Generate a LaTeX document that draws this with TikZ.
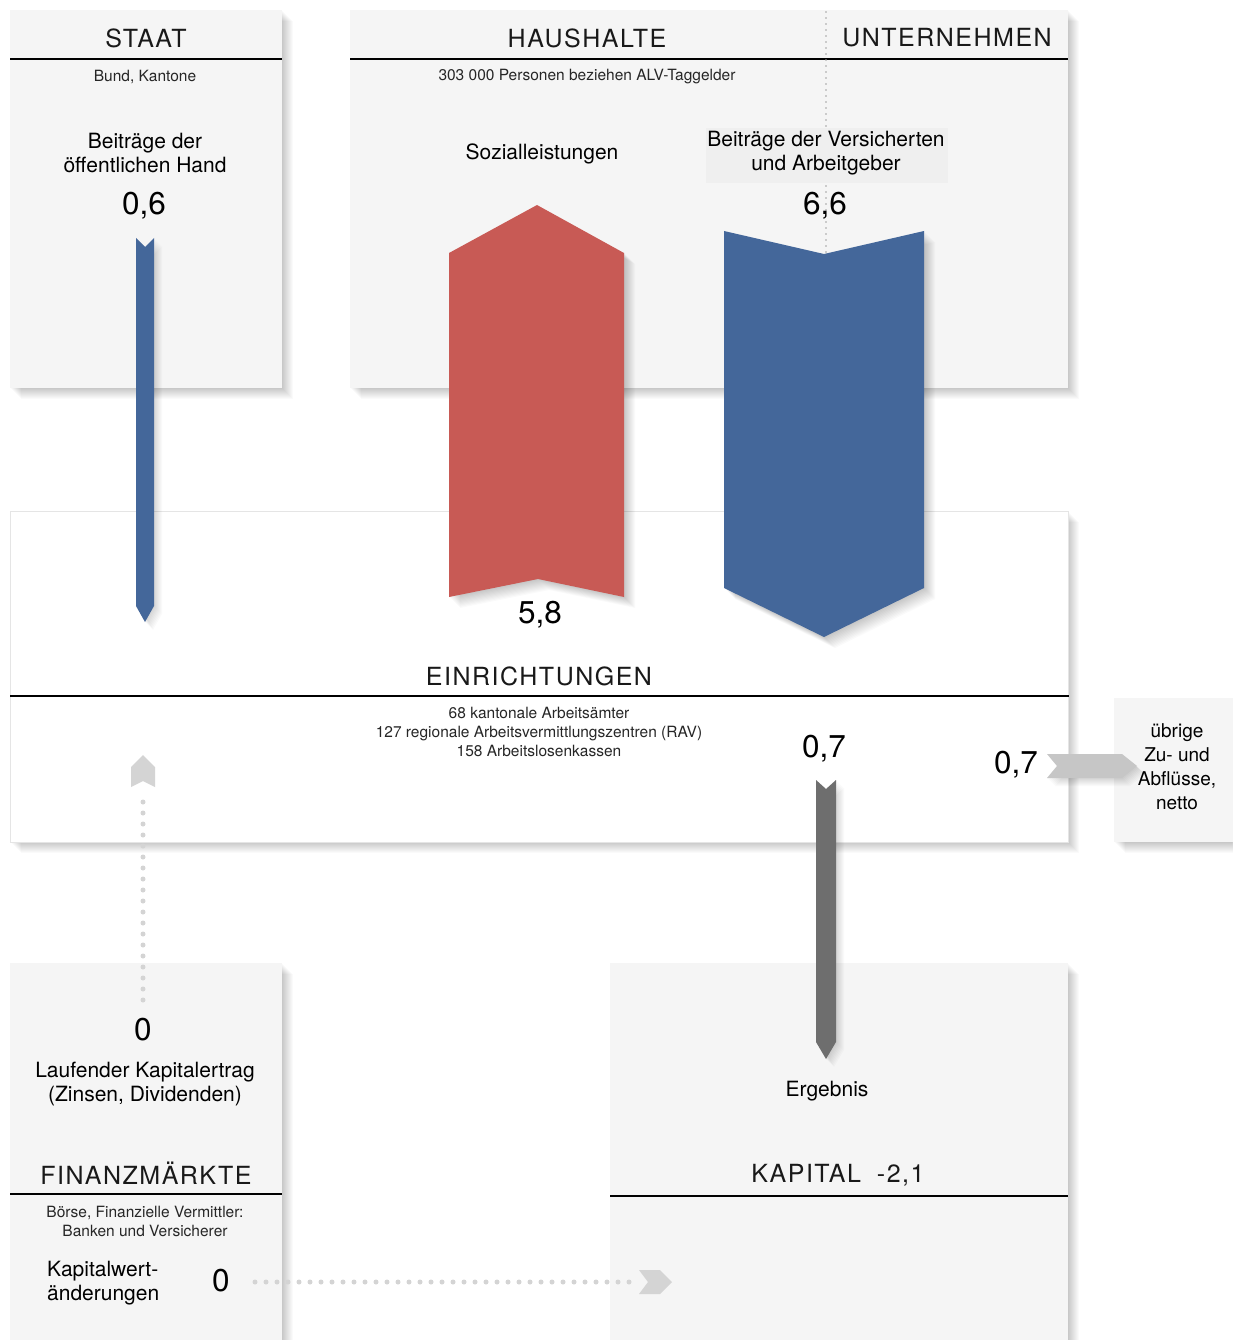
\documentclass[tikz,border=0pt]{standalone}
\usepackage{fontspec}
\setmainfont{TeX Gyre Heros}
\newfontfamily\hdrfont[LetterSpace=6]{TeX Gyre Heros}
\definecolor{boxfill}{HTML}{F5F5F5}
\definecolor{labfill}{HTML}{EFEFEF}
\definecolor{blueA}{HTML}{44679A}
\definecolor{redA}{HTML}{C85A55}
\definecolor{grayA}{HTML}{6E6E6E}
\definecolor{grayB}{HTML}{C6C6C6}
\definecolor{grayC}{HTML}{D4D4D4}
\definecolor{dotgray}{HTML}{A0A0A0}
\newcommand\fsA{\fontsize{21}{24}\selectfont}
\newcommand\fsS{\fontsize{15.5}{19}\selectfont}
\newcommand\fsN{\fontsize{31.5}{33}\selectfont}
\newcommand\fsH{\hdrfont\fontsize{25}{28}\selectfont}
\newcommand\fsU{\fontsize{19}{24}\selectfont}
\tikzset{
  shad/.style={preaction={fill=black,fill opacity=.02,transform canvas={xshift=#1,yshift=-#1}}},
  softshadow/.style={shad=1pt,shad=2pt,shad=3pt,shad=4pt,shad=5pt,shad=6pt,shad=7pt,shad=8pt,shad=9pt,shad=10pt,shad=11pt},
  smallshadow/.style={shad=1pt,shad=2pt,shad=3pt,shad=4pt,shad=5pt,shad=6pt,shad=7pt,shad=8pt},
  box/.style={rectangle,fill=boxfill,inner sep=0pt,anchor=north west,softshadow},
  wbox/.style={rectangle,fill=white,draw={black!10},line width=0.8pt,inner sep=0pt,anchor=north west,softshadow},
  hline/.style={line width=1.6pt,black},
  txt/.style={inner sep=0pt,align=center,font=\fsA},
  small/.style={inner sep=0pt,align=center,font=\fsS,text={black!85}},
  num/.style={inner sep=0pt,font=\fsN},
  hdr/.style={inner sep=0pt,font=\fsH,text={black!90}},
  dotline/.style={grayC,line width=5pt,line cap=round,dash pattern=on 0pt off 11pt},
  vdots/.style={dotgray,line width=1.8pt,line cap=round,dash pattern=on 0pt off 6pt}
}
\begin{document}
\begin{tikzpicture}[x=1pt,y=-1pt]
\useasboundingbox (0,0) rectangle (1232,1340);
\fill[white] (0,0) rectangle (1232,1340);
% boxes
\node[box,minimum width=272pt,minimum height=378pt] (staat) at (10,10) {};
\node[box,minimum width=718pt,minimum height=378pt] (haus) at (350,10) {};
\node[wbox,minimum width=1058pt,minimum height=331pt] (einr) at (10,511) {};
\node[box,minimum width=130pt,minimum height=144pt] (uebr) at (1114,698) {};
\node[box,minimum width=272pt,minimum height=390pt] (fin) at (10,963) {};
\node[box,minimum width=458pt,minimum height=390pt] (kap) at (610,963) {};
% header lines
\coordinate (l1) at (0,59); \coordinate (l2) at (0,696);
\coordinate (l3) at (0,1194); \coordinate (l4) at (0,1196);
\draw[hline] (staat.west |- l1) -- (staat.east |- l1);
\draw[hline] (haus.west |- l1) -- (haus.east |- l1);
\draw[hline] (einr.west |- l2) -- (einr.east |- l2);
\draw[hline] (fin.west |- l3) -- (fin.east |- l3);
\draw[hline] (kap.west |- l4) -- (kap.east |- l4);
% dotted separator Haushalte / Unternehmen
\coordinate (sepT) at (826,12);
\coordinate (sepB) at (826,252);
\draw[vdots] (sepT) -- (sepB);
% label background
\fill[labfill] (706,128) rectangle (948,183);
% arrows
\fill[blueA,smallshadow] (136,238) -- (145,247) -- (154,238) -- (154,606) -- (145,622) -- (136,606) -- cycle;
\fill[redA,softshadow] (449,597) -- (538,579) -- (624,597) -- (624,253) -- (537,205) -- (449,253) -- cycle;
\fill[blueA,softshadow] (724,231) -- (824,254) -- (924,231) -- (924,588) -- (824,637) -- (724,588) -- cycle;
\fill[grayA,smallshadow] (816,780) -- (826,789) -- (836,780) -- (836,1042) -- (826,1059) -- (816,1042) -- cycle;
\fill[grayB,smallshadow] (1047,754) -- (1122,754) -- (1137,766) -- (1122,778) -- (1047,778) -- (1057,766) -- cycle;
% dotted flows
\coordinate (dU1) at (143,1000); \coordinate (dU2) at (143,791);
\draw[dotline] (dU1) -- (dU2);
\fill[grayC] (131,787) -- (143,781) -- (155,787) -- (155,767) -- (143,755) -- (131,767) -- cycle;
\coordinate (dR1) at (255,1282); \coordinate (dR2) at (640,1282);
\draw[dotline] (dR1) -- (dR2);
\fill[grayC] (639,1270) -- (660,1270) -- (672,1282) -- (660,1294) -- (639,1294) -- (648,1282) -- cycle;
% texts
\node[hdr] (tStaat) at (146,38) {STAAT};
\node[small] (tBund) at (145,77) {Bund, Kantone};
\node[txt] (tBeitrOeff) at (145,153) {Beiträge der\\öffentlichen Hand};
\node[num] (n06) at (144,206) {0,6};
\node[hdr] (tHaus) at (587,38) {HAUSHALTE};
\node[hdr] (tUnt) at (947,38) {UNTERNEHMEN};
\node[small] (tPers) at (587,77) {303 000 Personen beziehen ALV-Taggelder};
\node[txt] (tSozial) at (542,154) {Sozialleistungen};
\node[txt] (tBeitrVers) at (826,153) {Beiträge der Versicherten\\und Arbeitgeber};
\node[num] (n66) at (825,206) {6,6};
\node[num] (n58) at (540,615) {5,8};
\node[hdr] (tEinr) at (539,676) {EINRICHTUNGEN};
\node[small] (tAemter) at (539,732) {68 kantonale Arbeitsämter\\127 regionale Arbeitsvermittlungszentren (RAV)\\158 Arbeitslosenkassen};
\node[num] (n07a) at (824,749) {0,7};
\node[num] (n07b) at (1016,765) {0,7};
\node[inner sep=0pt,align=center,font=\fsU] (tUebr) at (1177,767) {übrige\\Zu- und\\Abflüsse,\\netto};
\node[num] (n0a) at (143,1030) {0};
\node[txt] (tLauf) at (145,1084) {Laufender Kapitalertrag\\(Zinsen, Dividenden)};
\node[hdr] (tFin) at (146,1173) {FINANZMÄRKTE};
\node[small] (tBoerse) at (145,1221) {Börse, Finanzielle Vermittler:\\Banken und Versicherer};
\node[txt,align=left,anchor=west] (tKapW) at (47,1283) {Kapitalwert-\\änderungen};
\node[num] (n0b) at (221,1281) {0};
\node[txt] (tErg) at (827,1091) {Ergebnis};
\node[hdr] (tKap) at (838,1175) {KAPITAL\hspace{16pt}-2,1};
\end{tikzpicture}
\end{document}
